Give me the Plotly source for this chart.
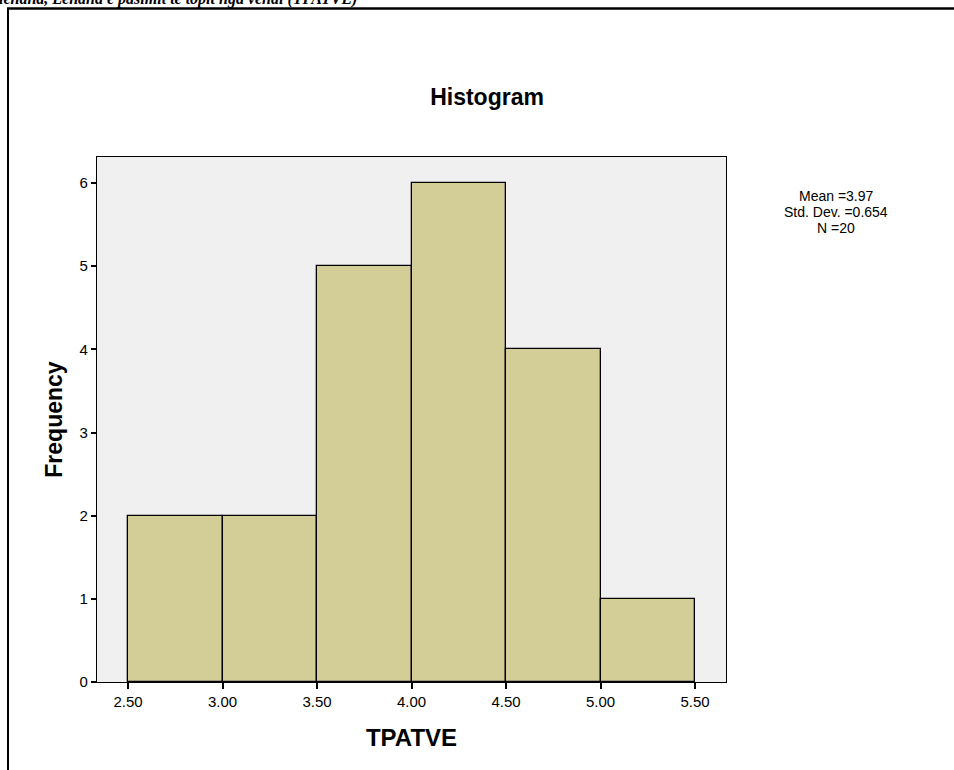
import plotly.graph_objects as go

# histogram data (SPSS output)
bin_left = [2.50, 3.00, 3.50, 4.00, 4.50, 5.00]
bin_width = 0.5
counts = [2, 2, 5, 6, 4, 1]
x_ticks = [2.50, 3.00, 3.50, 4.00, 4.50, 5.00, 5.50]
y_ticks = [0, 1, 2, 3, 4, 5, 6]
stats_lines = ["Mean =3.97", "Std. Dev. =0.654", "N =20"]
header_text = "lëndha, Lëndha e pasimit të topit nga vendi (TPATVE)"

W, H = 954, 770
L, R, T, B = 97, 726, 157, 682  # plot area in pixels


def px_x(p):
    return (p - L) / (R - L)


def px_y(p):
    return (B - p) / (B - T)


fig = go.Figure()
fig.add_trace(
    go.Bar(
        x=[b + bin_width / 2 for b in bin_left],
        y=counts,
        width=bin_width,
        marker={"color": "#d3cd98", "line": {"color": "#000000", "width": 1.3}},
        hoverinfo="x+y",
    )
)

fig.update_layout(
    width=W,
    height=H,
    margin={"l": L, "r": W - R, "t": T, "b": H - B, "pad": 0},
    paper_bgcolor="white",
    plot_bgcolor="#f0f0f0",
    showlegend=False,
    bargap=0,
    font={"family": "Liberation Sans, Arial, sans-serif", "color": "#000000", "size": 15},
    title={
        "text": "<b>Histogram</b>",
        "xref": "paper",
        "x": px_x(487),
        "xanchor": "center",
        "yref": "container",
        "y": 1 - 97 / H,
        "yanchor": "middle",
        "font": {"size": 23},
    },
)

fig.update_xaxes(
    range=[2.5 - 31 / 189, 5.5 + 31 / 189],
    tickvals=x_ticks,
    ticktext=[f"{v:.2f}" for v in x_ticks],
    ticks="outside",
    ticklen=6,
    tickwidth=2,
    tickcolor="#000000",
    showgrid=False,
    zeroline=False,
    showline=True,
    linecolor="#000000",
    linewidth=1.2,
    mirror=True,
    tickfont={"size": 15},
    title={"text": "<b>TPATVE</b>", "font": {"size": 24}, "standoff": 20},
)
fig.update_yaxes(
    range=[0, 6 + 26 / 83.2],
    tickvals=y_ticks,
    ticks="outside",
    ticklen=5,
    tickwidth=2,
    tickcolor="#000000",
    showgrid=False,
    zeroline=False,
    showline=True,
    linecolor="#000000",
    linewidth=1.2,
    mirror=True,
    tickfont={"size": 15},
    title={"text": "<b>Frequency</b>", "font": {"size": 23}, "standoff": 10},
)

# statistics block on the right, one line each
for i, line in enumerate(stats_lines):
    fig.add_annotation(
        text=line,
        xref="paper", yref="paper",
        x=px_x(836), y=px_y(196 + 16 * i),
        xanchor="center", yanchor="middle",
        showarrow=False,
        font={"size": 14},
    )

# cut-off document text above the frame
fig.add_annotation(
    text=f"<b><i>{header_text}</i></b>",
    xref="paper", yref="paper",
    x=px_x(-3), y=px_y(10),
    xanchor="left", yanchor="bottom",
    showarrow=False,
    font={"family": "Liberation Serif, Times New Roman, serif", "size": 16},
)

# outer frame of the embedded image
fig.add_shape(
    type="line", xref="paper", yref="paper",
    x0=px_x(7), x1=px_x(980), y0=px_y(8.5), y1=px_y(8.5),
    line={"color": "#000000", "width": 2.5},
)
fig.add_shape(
    type="line", xref="paper", yref="paper",
    x0=px_x(8), x1=px_x(8), y0=px_y(8), y1=px_y(800),
    line={"color": "#000000", "width": 2},
)

# drop the default page margin so the figure sits at the window corner
fig.write_html(
    "out.html",
    config={"displayModeBar": False},
    post_script="document.body.style.margin = '0';",
)
